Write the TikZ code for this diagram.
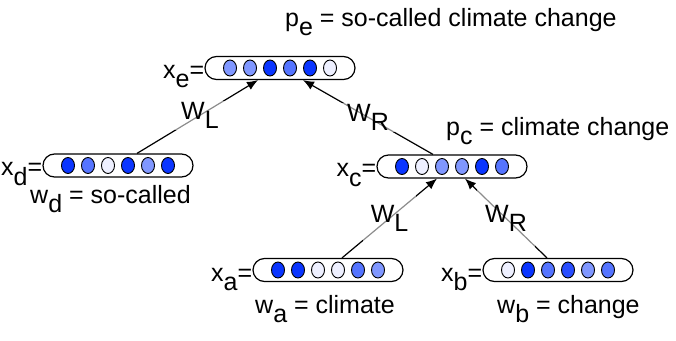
\documentclass[tikz,border=0pt]{standalone}
\usepackage{fontspec}
\setmainfont{Liberation Sans}
\usetikzlibrary{arrows.meta,positioning,calc,shapes.misc,shapes.geometric}

\definecolor{unitdark}{HTML}{0A35FF}
\definecolor{unitdm}{HTML}{2A4EFF}
\definecolor{unitmid}{HTML}{5574FF}
\definecolor{unitlight}{HTML}{8097FF}
\definecolor{unitpale}{HTML}{EEF0FF}
\newcommand{\lowsub}[1]{\raisebox{-0.38em}{#1}}

\begin{document}
\begin{tikzpicture}[
      x=1pt,y=-1pt,
      font=\fontsize{25}{30}\selectfont,
      vec/.style={draw,rounded rectangle,line width=1.2pt,minimum width=150pt,minimum height=23pt,inner sep=0pt},
      unit/.style={draw,ellipse,line width=0.9pt,minimum width=13pt,minimum height=16pt,inner sep=0pt},
      lab/.style={inner sep=0pt},
      wt/.style={fill=white,fill opacity=0.55,text opacity=1,inner xsep=6pt,inner ysep=1pt},
      wtlow/.style={wt,minimum height=58pt,inner xsep=8pt},
      >={Latex[length=11pt,width=9pt]}
    ]
      \useasboundingbox (0,0) rectangle (676,340);
      % phrase vectors
      \node[vec] (e) at (280,68) {};
      \node[vec] (d) at (118,165.5) {};
      \node[vec] (c) at (452,166.5) {};
      \node[vec] (a) at (328,270) {};
      \node[vec] (b) at (558,270) {};
      \foreach \col [count=\i] in {unitlight,unitlight,unitdark,unitmid,unitdark,unitpale}
        \node[unit,fill=\col] at ($(e)+({-70+20*\i},0)$) {};
      \foreach \col [count=\i] in {unitdark,unitmid,unitpale,unitdark,unitlight,unitdark}
        \node[unit,fill=\col] at ($(d)+({-70+20*\i},0)$) {};
      \foreach \col [count=\i] in {unitdark,unitpale,unitlight,unitlight,unitdark,unitmid}
        \node[unit,fill=\col] at ($(c)+({-70+20*\i},0)$) {};
      \foreach \col [count=\i] in {unitdark,unitdark,unitpale,unitpale,unitmid,unitlight}
        \node[unit,fill=\col] at ($(a)+({-70+20*\i},0)$) {};
      \foreach \col [count=\i] in {unitpale,unitdark,unitmid,unitdm,unitlight,unitmid}
        \node[unit,fill=\col] at ($(b)+({-70+20*\i},0)$) {};
      % names and words
      \node[lab,anchor=base east] (xe) at ([yshift=-10pt]e.west) {x\lowsub{e}=};
      \node[lab,anchor=base east] (xd) at ([yshift=-10pt]d.west) {x\lowsub{d}=};
      \node[lab,anchor=base east] (xc) at ([yshift=-10pt]c.west) {x\lowsub{c}=};
      \node[lab,anchor=base east] (xa) at ([yshift=-11pt]a.west) {x\lowsub{a}=};
      \node[lab,anchor=base east] (xb) at ([yshift=-11pt]b.west) {x\lowsub{b}=};
      \node[lab,anchor=base west] (pe) at (285,26) {p\lowsub{e} = so-called climate change};
      \node[lab,anchor=base west] (pc) at (446,135) {p\lowsub{c} = climate change};
      \node[lab,anchor=base west] (wd) at (30,203) {w\lowsub{d} = so-called};
      \node[lab,anchor=base west] (wa) at (255,313) {w\lowsub{a} = climate};
      \node[lab,anchor=base west] (wb) at (497,313) {w\lowsub{b} = change};
      % compositions
      \draw[->,line width=1.2pt] ([xshift=19pt]d.north) -- node[wt,pos=0.52]{W\lowsub{L}} ([xshift=-22pt]e.south);
      \draw[->,line width=1.2pt] ([xshift=-19pt]c.north) -- node[wt,pos=0.5]{W\lowsub{R}} ([xshift=23pt]e.south);
      \draw[->,line width=1.2pt] ([xshift=14pt]a.north) -- node[wtlow,pos=0.5]{W\lowsub{L}} ([xshift=-15pt]c.south);
      \draw[->,line width=1.2pt] ([xshift=-11pt]b.north) -- node[wtlow,pos=0.5]{W\lowsub{R}} ([xshift=13pt]c.south);
    \end{tikzpicture}
\end{document}
